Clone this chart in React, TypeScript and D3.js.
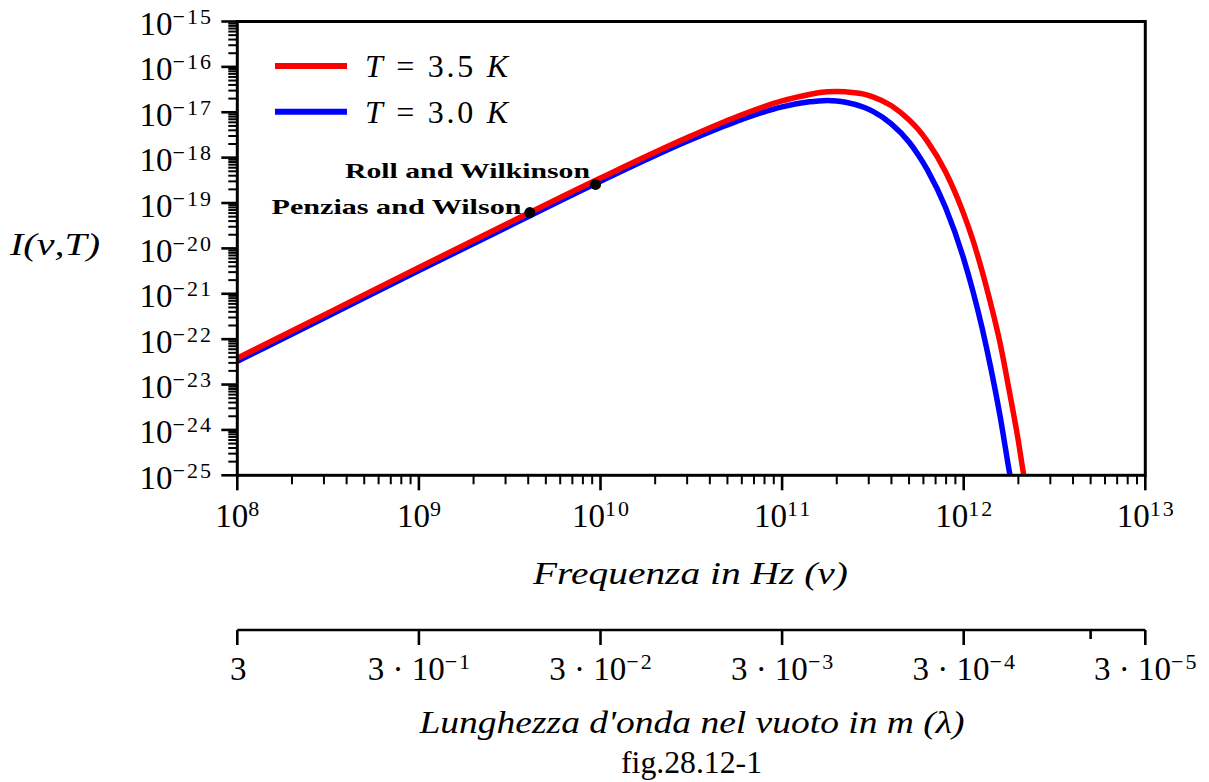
import React from 'react';
import * as d3 from 'd3';

// ---- data (log10 values) ----
const freqDecades = [8, 9, 10, 11, 12, 13];
const intensityDecades = [-25, -24, -23, -22, -21, -20, -19, -18, -17, -16, -15];
const lambdaExps = [0, -1, -2, -3, -4, -5];
const lambdaMinor = [6e-5];

const redLogNu = [8, 8.5, 9, 9.5, 10, 10.5, 10.75, 11, 11.15, 11.2, 11.25, 11.3, 11.35, 11.45, 11.5, 11.6, 11.7, 11.75, 11.8, 11.9, 12.0, 12.05, 12.1, 12.15, 12.2, 12.25, 12.3, 12.33, 12.34];
const redLogI = [-22.42, -21.42, -20.42, -19.43, -18.45, -17.52, -17.1, -16.75, -16.61, -16.57, -16.55, -16.54, -16.55, -16.6, -16.66, -16.85, -17.17, -17.38, -17.64, -18.31, -19.24, -19.81, -20.48, -21.24, -22.08, -23.12, -24.22, -24.98, -25.2];

const blueLogNu = [8, 8.5, 9, 9.5, 10, 10.5, 10.75, 11, 11.15, 11.2, 11.25, 11.3, 11.35, 11.45, 11.5, 11.6, 11.7, 11.75, 11.8, 11.9, 12.0, 12.05, 12.1, 12.15, 12.2, 12.25, 12.27];
const blueLogI = [-22.49, -21.49, -20.49, -19.5, -18.52, -17.6, -17.2, -16.88, -16.77, -16.75, -16.74, -16.75, -16.78, -16.89, -16.98, -17.25, -17.66, -17.94, -18.27, -19.1, -20.23, -20.93, -21.73, -22.65, -23.69, -24.89, -25.35];

const seriesNames = ['T = 3.5 K', 'T = 3.0 K'];
const seriesTemps = ['3.5', '3.0'];
const seriesColors = ['#ff0000', '#0000ff'];

const markNames = ['Roll and Wilkinson', 'Penzias and Wilson'];
const markLogNu = [9.973, 9.611];
const markLogI = [-18.59, -19.21];

// ---- layout ----
const W = 1209, H = 782;
const L = 237.3, R = 1145.3, T = 21.5, B = 475.3;
const LAM_Y = 630;
const FONT = '"Liberation Serif", "Times New Roman", serif';

const x = d3.scaleLog().domain([1e8, 1e13]).range([L, R]);
const y = d3.scaleLog().domain([1e-25, 1e-15]).range([B, T]);
const lam = d3.scaleLog().domain([3, 3e-5]).range([L, R]);

const line = d3
  .line<[number, number]>()
  .x((d) => x(Math.pow(10, d[0])))
  .y((d) => y(Math.pow(10, d[1])))
  .curve(d3.curveMonotoneX);

const minus = (e: number) => (e < 0 ? '\u2212' + Math.abs(e) : String(e));

function Pow(props: { x: number; y: number; pre: string; exp: number | null; anchor: string }) {
  const { pre, exp, anchor } = props;
  return (
    <text x={props.x} y={props.y} textAnchor={anchor} fontFamily={FONT} fontSize={33} fill="#000">
      <tspan>{pre}</tspan>
      {exp !== null && (
        <tspan dy={-11} fontSize={22} style={{ letterSpacing: '2px' }}>
          {minus(exp)}
        </tspan>
      )}
    </text>
  );
}

export default function App() {
  const redPts = redLogNu.map((v, i) => [v, redLogI[i]] as [number, number]);
  const bluePts = blueLogNu.map((v, i) => [v, blueLogI[i]] as [number, number]);
  const series = [bluePts, redPts];
  const seriesCol = [seriesColors[1], seriesColors[0]];

  const xMinor: number[] = [];
  freqDecades.slice(0, -1).forEach((d) => {
    for (let m = 2; m <= 9; m++) xMinor.push(m * Math.pow(10, d));
  });
  const yMinor: number[] = [];
  intensityDecades.slice(0, -1).forEach((d) => {
    for (let m = 2; m <= 9; m++) yMinor.push(m * Math.pow(10, d));
  });

  return (
    <svg width={W} height={H} style={{ position: 'absolute', left: 0, top: 0, background: '#fff' }}>
      <defs>
        <clipPath id="plotclip">
          <rect x={L} y={T} width={R - L} height={B - T} />
        </clipPath>
      </defs>

      {/* curves */}
      <g clipPath="url(#plotclip)">
        {series.map((pts, i) => (
          <path key={i} d={line(pts) || ''} fill="none" stroke={seriesCol[i]} strokeWidth={5.5} strokeLinejoin="round" />
        ))}
      </g>

      {/* frame */}
      <rect x={L} y={T} width={R - L} height={B - T} fill="none" stroke="#000" strokeWidth={3} />

      {/* y ticks */}
      {intensityDecades.map((d) => (
        <line key={'ym' + d} x1={L - 16} x2={L} y1={y(Math.pow(10, d))} y2={y(Math.pow(10, d))} stroke="#000" strokeWidth={2.6} />
      ))}
      {yMinor.map((v, i) => (
        <line key={'yn' + i} x1={L - 9} x2={L} y1={y(v)} y2={y(v)} stroke="#000" strokeWidth={2} />
      ))}
      {intensityDecades.map((d) => (
        <Pow key={'yl' + d} x={213} y={y(Math.pow(10, d)) + 13.5} pre="10" exp={d} anchor="end" />
      ))}

      {/* x ticks */}
      {freqDecades.map((d) => (
        <line key={'xm' + d} x1={x(Math.pow(10, d))} x2={x(Math.pow(10, d))} y1={B} y2={B + 15} stroke="#000" strokeWidth={2.6} />
      ))}
      {xMinor.map((v, i) => (
        <line key={'xn' + i} x1={x(v)} x2={x(v)} y1={B} y2={B + 9} stroke="#000" strokeWidth={2} />
      ))}
      {freqDecades.map((d) => (
        <Pow key={'xl' + d} x={x(Math.pow(10, d)) + 1} y={527} pre="10" exp={d} anchor="middle" />
      ))}

      {/* axis titles */}
      <text x={10} y={255} fontFamily={FONT} fontSize={32} fontStyle="italic" textLength={90} lengthAdjust="spacingAndGlyphs">
        I(ν,T)
      </text>
      <text x={690.5} y={584} textAnchor="middle" fontFamily={FONT} fontSize={32} fontStyle="italic" textLength={315} lengthAdjust="spacingAndGlyphs">
        Frequenza in Hz  (ν)
      </text>

      {/* wavelength axis */}
      <line x1={L} x2={R} y1={LAM_Y} y2={LAM_Y} stroke="#000" strokeWidth={2.6} />
      {lambdaExps.map((e) => (
        <line key={'lm' + e} x1={lam(3 * Math.pow(10, e))} x2={lam(3 * Math.pow(10, e))} y1={LAM_Y} y2={LAM_Y + 15} stroke="#000" strokeWidth={2.6} />
      ))}
      {lambdaMinor.map((v, i) => (
        <line key={'ln' + i} x1={lam(v)} x2={lam(v)} y1={LAM_Y} y2={LAM_Y + 9} stroke="#000" strokeWidth={2.6} />
      ))}
      {lambdaExps.map((e) => (
        <Pow key={'ll' + e} x={lam(3 * Math.pow(10, e)) + 1} y={680} pre={e === 0 ? '3' : '3 \u00B7 10'} exp={e === 0 ? null : e} anchor="middle" />
      ))}
      <text x={692} y={733} textAnchor="middle" fontFamily={FONT} fontSize={32} fontStyle="italic" textLength={545} lengthAdjust="spacingAndGlyphs">
        Lunghezza d'onda nel vuoto in m  (λ)
      </text>
      <text x={691.5} y={773} textAnchor="middle" fontFamily={FONT} fontSize={32} textLength={141} lengthAdjust="spacingAndGlyphs">
        fig.28.12-1
      </text>

      {/* legend */}
      {seriesNames.map((n, i) => (
        <g key={n}>
          <line x1={275} x2={347} y1={66 + i * 45.7} y2={66 + i * 45.7} stroke={seriesColors[i]} strokeWidth={6} />
          <text x={365} y={77 + i * 45.7} fontFamily={FONT} fontSize={32} textLength={143} lengthAdjust="spacing">
            <tspan fontStyle="italic">T</tspan>
            <tspan>{' = ' + seriesTemps[i] + ' '}</tspan>
            <tspan fontStyle="italic">K</tspan>
          </text>
        </g>
      ))}

      {/* measurement points */}
      {markNames.map((n, i) => {
        const px = x(Math.pow(10, markLogNu[i]));
        const py = y(Math.pow(10, markLogI[i]));
        return (
          <g key={n}>
            <circle cx={px} cy={py} r={5.5} fill="#000" />
            <text x={i === 0 ? 590 : 521.5} y={i === 0 ? 178 : 214} textAnchor="end" fontFamily={FONT} fontSize={21} fontWeight="bold" textLength={i === 0 ? 245 : 250} lengthAdjust="spacingAndGlyphs">
              {n}
            </text>
          </g>
        );
      })}
    </svg>
  );
}
